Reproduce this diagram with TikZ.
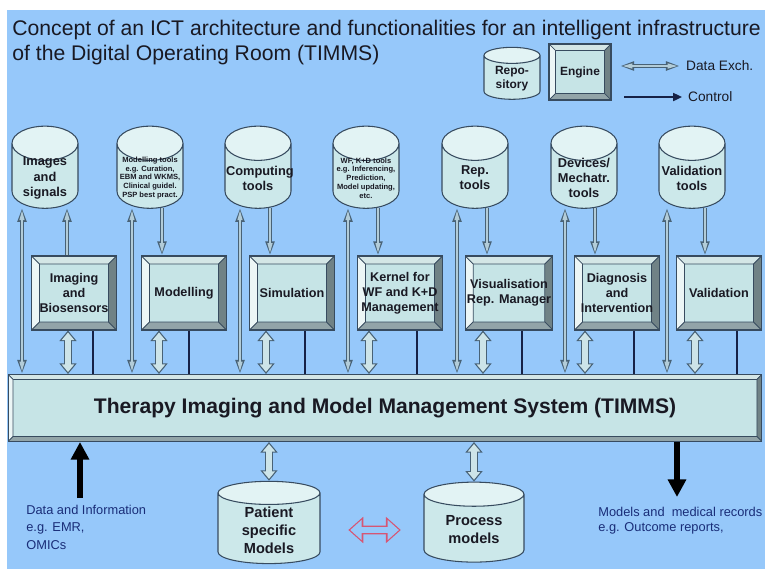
\documentclass[tikz,border=0pt]{standalone}
\usepackage{fontspec}
\setmainfont{Liberation Sans}
\usetikzlibrary{shapes.geometric,arrows.meta,calc}

\definecolor{room}{RGB}{150,200,250}
\definecolor{ink}{RGB}{25,25,35}
\definecolor{navy}{RGB}{22,34,70}
\definecolor{note}{RGB}{25,45,120}
\definecolor{tank}{RGB}{204,232,234}
\definecolor{tanklid}{RGB}{226,243,244}
\definecolor{rim}{RGB}{55,75,95}
\definecolor{face}{RGB}{198,228,230}
\definecolor{lipN}{RGB}{212,230,230}
\definecolor{lipW}{RGB}{236,246,246}
\definecolor{lipE}{RGB}{112,130,134}
\definecolor{lipS}{RGB}{146,164,168}
\definecolor{pipe}{RGB}{72,98,118}
\definecolor{pipefill}{RGB}{178,204,216}
\definecolor{fatfill}{RGB}{205,228,232}
\definecolor{rosy}{RGB}{214,86,116}

\pgfdeclarelayer{paper}
\pgfdeclarelayer{wires}
\pgfsetlayers{paper,wires,main}

% fixed text block inside the upper tool stores
\newcommand\toolbox[1]{\parbox[c][0.65cm][c]{1.28cm}{\centering #1}}

\tikzset{
  bevelled/.style={path picture={
    \path (path picture bounding box.north west) coordinate (q1)
          (path picture bounding box.north east) coordinate (q2)
          (path picture bounding box.south east) coordinate (q3)
          (path picture bounding box.south west) coordinate (q4)
          ($(q1)+(#1,-#1)$) coordinate (r1)
          ($(q2)+(-#1,-#1)$) coordinate (r2)
          ($(q3)+(-#1,#1)$) coordinate (r3)
          ($(q4)+(#1,#1)$) coordinate (r4);
    \filldraw[draw=rim, line width=0.4pt, fill=lipN] (q1) -- (q2) -- (r2) -- (r1) -- cycle;
    \filldraw[draw=rim, line width=0.4pt, fill=lipW] (q1) -- (q4) -- (r4) -- (r1) -- cycle;
    \filldraw[draw=rim, line width=0.4pt, fill=lipE] (q2) -- (q3) -- (r3) -- (r2) -- cycle;
    \filldraw[draw=rim, line width=0.4pt, fill=lipS] (q4) -- (q3) -- (r3) -- (r4) -- cycle;
  }},
  store/.style={cylinder, shape border rotate=90, draw=rim, line width=0.6pt,
    cylinder uses custom fill, cylinder body fill=tank, cylinder end fill=tanklid,
    align=center, text=ink},
  tool/.style={store, aspect=0.52, minimum width=1.32cm, minimum height=1.6cm, inner sep=0.5pt,
    font=\bfseries\fontsize{7.3}{8.6}\selectfont},
  tinytool/.style={tool, font=\bfseries\fontsize{4.3}{5.0}\selectfont},
  engine/.style={rectangle, draw=rim, line width=0.6pt, fill=face, minimum width=1.7cm,
    minimum height=1.48cm, inner sep=1pt, align=center, text=ink,
    font=\bfseries\fontsize{7.2}{8.4}\selectfont, bevelled=0.16cm},
  slab/.style={rectangle, draw=rim, line width=0.6pt, fill=face, minimum width=15.08cm,
    minimum height=1.34cm, text=ink, font=\bfseries\fontsize{12}{14}\selectfont, bevelled=0.1cm},
  thinx/.style={draw=pipe, line width=2.6pt,
    arrows={Triangle[length=8pt,width=4.8pt]-Triangle[length=8pt,width=4.8pt]},
    postaction={draw=pipefill, line width=1.2pt,
      arrows={Triangle[length=6pt,width=2.6pt]-Triangle[length=6pt,width=2.6pt]},
      shorten <=1pt, shorten >=1pt}},
  thinone/.style={draw=pipe, line width=2.6pt, arrows=-{Triangle[length=8pt,width=4.8pt]},
    postaction={draw=pipefill, line width=1.2pt, arrows=-{Triangle[length=6pt,width=2.6pt]},
      shorten >=1pt}},
  fatx/.style={draw=pipe, line width=5pt,
    arrows={Triangle[length=6pt,width=9.5pt]-Triangle[length=6pt,width=9.5pt]},
    postaction={draw=fatfill, line width=3.2pt,
      arrows={Triangle[length=4.3pt,width=6.8pt]-Triangle[length=4.3pt,width=6.8pt]},
      shorten <=1.1pt, shorten >=1.1pt}},
  swapx/.style={draw=rosy, line width=5pt,
    arrows={Triangle[length=8.5pt,width=14.5pt]-Triangle[length=8.5pt,width=14.5pt]},
    postaction={draw=room, line width=3.4pt,
      arrows={Triangle[length=6.4pt,width=11pt]-Triangle[length=6.4pt,width=11pt]},
      shorten <=1.1pt, shorten >=1.1pt}},
  ctrl/.style={draw=navy, line width=1.1pt},
  bigarr/.style={draw=black, line width=3pt, arrows=-{Triangle[length=10pt,width=10pt]}},
}

\begin{document}
\begin{tikzpicture}[x=0.02cm, y=-0.02cm]
  \useasboundingbox (0,0) rectangle (765,569);
  \begin{pgfonlayer}{paper}
    \fill[white] (0,0) rectangle (765,569);
    \fill[room] (7,10) rectangle (765,569);
  \end{pgfonlayer}

  % heading and legend
  \node[anchor=north west, align=left, inner sep=0, text=ink,
        font=\fontsize{12.05}{14.2}\selectfont] (title) at (12,20)
    {Concept of an ICT architecture and functionalities for an intelligent infrastructure\\
     of the Digital Operating Room (TIMMS)};
  \node[store, aspect=0.43, minimum width=1.12cm, minimum height=1.04cm, inner sep=1pt,
        font=\bfseries\fontsize{6.8}{8}\selectfont] (repo) at (512,79) {Repo-\\sitory};
  \node[engine, minimum width=1.24cm, minimum height=1.12cm, bevelled=0.13cm,
        font=\bfseries\fontsize{6.8}{8}\selectfont] (eng) at (580,72) {Engine};
  \node[anchor=west, text=ink, font=\fontsize{7.8}{9}\selectfont] (lgx) at (680,66) {Data Exch.};
  \node[anchor=west, text=ink, font=\fontsize{7.8}{9}\selectfont] (lgc) at (682,97) {Control};
  \coordinate (xa) at (620,66);
  \coordinate (ca) at (624,97);
  \draw[thinx] (xa) -- (lgx.west);
  \draw[ctrl, -{Triangle[length=5pt,width=4.5pt]}] (ca) -- (lgc.west);

  % tool stores
  \node[tool] (c1) at (45,178) {\toolbox{Images\\and\\signals}};
  \node[tinytool] (c2) at (150,178) {\toolbox{Modelling tools\\e.g. Curation,\\EBM and WKMS,\\Clinical guidel.\\PSP best pract.}};
  \node[tool] (c3) at (258,178) {\toolbox{Computing\\tools}};
  \node[tinytool] (c4) at (366,178) {\toolbox{WF, K+D tools\\e.g. Inferencing,\\Prediction,\\Model updating,\\etc.}};
  \node[tool] (c5) at (475,178) {\toolbox{Rep.\\tools}};
  \node[tool] (c6) at (584,178) {\toolbox{Devices/\\Mechatr.\\tools}};
  \node[tool] (c7) at (692,178) {\toolbox{Validation\\tools}};

  % engines
  \node[engine] (b1) at (74,293) {Imaging\\and\\Biosensors};
  \node[engine] (b2) at (184,293) {Modelling};
  \node[engine] (b3) at (292,293) {Simulation};
  \node[engine] (b4) at (400,293) {Kernel for\\WF and K+D\\Management};
  \node[engine] (b5) at (509,293) {Visualisation\\Rep. Manager};
  \node[engine] (b6) at (617,293) {Diagnosis\\and\\Intervention};
  \node[engine] (b7) at (719,293) {Validation};

  \node[slab] (timms) at (385,408) {Therapy Imaging and Model Management System (TIMMS)};

  % bottom stores and notes
  \node[store, aspect=0.4, minimum width=2.04cm, minimum height=1.6cm, inner sep=1pt,
        font=\bfseries\fontsize{8.3}{10.2}\selectfont] (pat) at (269,530) {Patient\\specific\\Models};
  \node[store, aspect=0.4, minimum width=2.0cm, minimum height=1.6cm, inner sep=1pt,
        font=\bfseries\fontsize{8.3}{10.2}\selectfont] (proc) at (474,530) {Process\\models};
  \node[anchor=north west, align=left, inner sep=0, text=note,
        font=\fontsize{7.3}{9.8}\selectfont] (info) at (26,505) {Data and Information\\e.g. EMR,\\OMICs};
  \node[anchor=north west, align=left, inner sep=0, text=note,
        font=\fontsize{7.3}{8.6}\selectfont] (recs) at (598,507) {Models and\ \ medical records\\e.g. Outcome reports,};
  \coordinate (upfoot) at (80,498);
  \coordinate (downfoot) at (677,497);

  \begin{pgfonlayer}{wires}
    \foreach \i/\lx/\rx in {1/-23/22,2/-18/12,3/-18/12,4/-18/12,5/-18/12,6/-19/11,7/-25/13} {
      \path ($(c\i.south)+(\lx,-1)$) coordinate (la) ($(c\i.south)+(\rx,-1)$) coordinate (ra);
      \draw[thinx] (la) -- (la |- timms.north);
      \ifnum\i=1
        \draw[thinone] (ra |- b\i.north) -- (ra);
      \else
        \draw[thinone] (ra) -- (ra |- b\i.north);
      \fi
    }
    \foreach \i/\fx/\kx in {1/-6/19,2/-25/5,3/-26/13,4/-31/17,5/-26/13,6/-32/17,7/-24/18} {
      \path ($(b\i.south)+(\fx,0)$) coordinate (fa) ($(b\i.south)+(\kx,0)$) coordinate (ka);
      \draw[fatx] (fa) -- (fa |- timms.north);
      \draw[ctrl] (ka) -- (ka |- timms.north);
    }
    \draw[fatx] (pat.north) -- (pat.north |- timms.south);
    \draw[fatx] (proc.north) -- (proc.north |- timms.south);
    \draw[bigarr] (upfoot) -- (upfoot |- timms.south);
    \draw[bigarr] (downfoot |- timms.south) -- (downfoot);
    \draw[swapx] ($(pat.east)!0.27!(proc.west)$) -- ($(pat.east)!0.78!(proc.west)$);
  \end{pgfonlayer}
\end{tikzpicture}
\end{document}
